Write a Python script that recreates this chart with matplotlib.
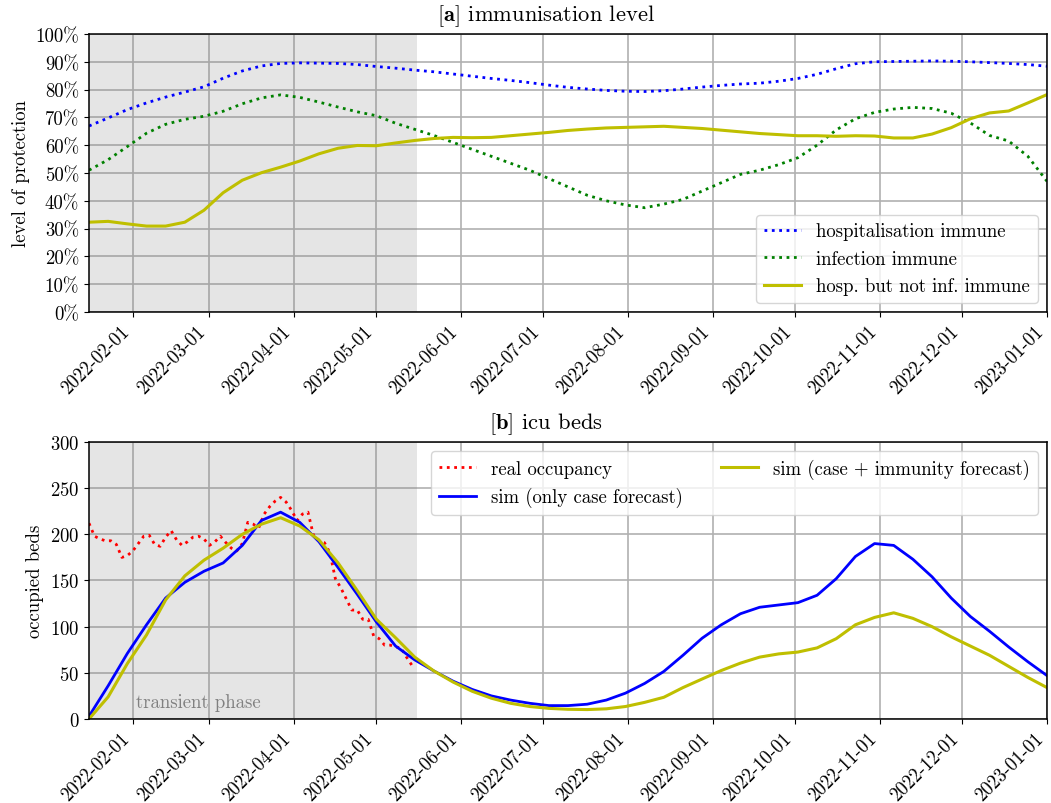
import matplotlib
matplotlib.use("Agg")
from matplotlib import pyplot as plt
from matplotlib.ticker import PercentFormatter, MultipleLocator
import matplotlib.dates as mdates
import pandas as pd

plt.rcParams['font.family'] = 'serif'
plt.rcParams['font.serif'] = ['cmr10']
plt.rcParams['mathtext.fontset'] = 'cm'
plt.rcParams['axes.formatter.use_mathtext'] = True
plt.rcParams['font.size'] = 13.5

# weekly dates, 2022-01-16 .. 2023-01-01
weeks = pd.date_range('2022-01-16', '2023-01-01', freq='7D')

# [a] immunisation level (percent)
hosp_immune = [66.9, 69.8, 72.8, 75.2, 77.3, 79.1, 81.0, 84.1, 86.7, 88.5,
               89.4, 89.6, 89.5, 89.4, 89.0, 88.3, 87.7, 87.0, 86.4, 85.6,
               84.8, 84.0, 83.3, 82.5, 81.6, 80.8, 80.2, 79.7, 79.4, 79.3,
               79.6, 80.2, 80.9, 81.5, 82.0, 82.3, 83.0, 84.0, 85.5, 87.5,
               89.3, 90.0, 90.1, 90.2, 90.3, 90.2, 90.0, 89.7, 89.4, 89.0, 88.4]
inf_immune = [51.0, 54.8, 59.5, 64.3, 67.5, 69.3, 70.4, 72.2, 74.9, 77.0,
              78.1, 77.2, 75.5, 73.7, 72.0, 70.6, 67.9, 65.7, 63.5, 61.0,
              58.5, 56.0, 53.5, 51.0, 48.0, 45.0, 42.0, 40.0, 38.5, 37.5,
              38.8, 40.5, 43.5, 46.5, 49.5, 51.0, 53.0, 55.5, 60.0, 65.5,
              69.5, 71.8, 73.0, 73.6, 73.2, 71.5, 68.0, 63.5, 61.5, 56.0, 47.0]
hosp_not_inf = [32.3, 32.6, 31.7, 30.9, 30.9, 32.3, 36.6, 42.9, 47.4, 50.1,
                52.1, 54.3, 56.9, 58.9, 59.9, 59.8, 60.8, 61.7, 62.4, 62.8,
                62.7, 62.8, 63.4, 64.0, 64.6, 65.3, 65.8, 66.2, 66.4, 66.6,
                66.8, 66.4, 66.0, 65.4, 64.8, 64.2, 63.8, 63.4, 63.4, 63.2,
                63.4, 63.3, 62.6, 62.6, 64.0, 66.3, 69.5, 71.6, 72.3, 75.2, 78.2]

# [b] icu beds
sim_case = [3, 36, 71, 102, 131, 148, 160, 169, 188, 215,
            224, 213, 192, 164, 135, 105, 79, 64, 52, 41,
            32, 25, 20.5, 17, 14.5, 14.5, 16, 20.5, 28, 38.5,
            51.5, 69, 87.5, 102, 114, 121, 123.5, 126, 134, 152,
            176, 190, 188, 173, 154, 131, 111, 95, 78, 62, 47]
sim_case_imm = [0, 24, 60, 91, 129, 155, 172, 185, 200, 211,
                218, 209, 194, 169, 139, 108, 88, 67, 52, 40,
                30, 22.5, 17, 13.5, 11.5, 10.5, 10.2, 11, 13.5, 18,
                23.5, 34, 43.3, 52.5, 60.5, 67, 70.5, 72.5, 77, 87,
                102, 110, 115, 109, 100, 89, 79, 69, 57, 45, 34]

# real occupancy, every second day
real_days = pd.date_range('2022-01-16', periods=60, freq='2D')
real_occ = [212, 198, 195, 193, 193, 189, 175, 177, 182, 190,
            198, 199, 189, 187, 197, 204, 194, 188, 192, 197,
            198, 195, 188, 192, 198, 191, 185, 182, 190, 213,
            211, 207, 222, 230, 236, 240, 235, 226, 215, 222,
            224, 199, 193, 191, 180, 152, 142, 130, 118, 118,
            108, 108, 90, 87, 80, 80, 78, 77, 67, 58]

start = pd.Timestamp('2022-01-16')
end = pd.Timestamp('2023-01-01')
transient_end = pd.Timestamp('2022-05-16')

fig = plt.figure(figsize=(10.51, 8.04), dpi=100)
ax1 = fig.add_axes([0.0847, 0.6107, 0.9115, 0.3458])
ax2 = fig.add_axes([0.0847, 0.1045, 0.9115, 0.3445])

for ax in (ax1, ax2):
    ax.axvspan(start, transient_end, color='gray', alpha=0.2, lw=0)
    ax.grid(True, color='#b0b0b0', linewidth=1.2)
    ax.set_axisbelow(True)
    ax.set_xlim(start, end)
    ax.xaxis.set_major_locator(mdates.MonthLocator(bymonthday=1))
    ax.xaxis.set_major_formatter(mdates.DateFormatter('%Y-%m-%d'))
    plt.setp(ax.get_xticklabels(), rotation=45, ha='right')
    for s in ax.spines.values():
        s.set_linewidth(1.1)

ax1.plot(weeks, hosp_immune, ':', color='b', lw=2, label='hospitalisation immune')
ax1.plot(weeks, inf_immune, ':', color='g', lw=2, label='infection immune')
ax1.plot(weeks, hosp_not_inf, '-', color='y', lw=2.2, label='hosp. but not inf. immune')
ax1.set_ylim(0, 100)
ax1.yaxis.set_major_locator(MultipleLocator(10))
ax1.yaxis.set_major_formatter(PercentFormatter(100, decimals=0))
ax1.set_ylabel('level of protection')
ax1.set_title(r'[$\mathbf{a}$] immunisation level', x=0.477, pad=10)
ax1.legend(loc='lower right')

ax2.plot(real_days, real_occ, ':', color='r', lw=2, label='real occupancy')
ax2.plot(weeks, sim_case, '-', color='b', lw=2, label='sim (only case forecast)')
ax2.plot(weeks, sim_case_imm, '-', color='y', lw=2.2, label='sim (case + immunity forecast)')
ax2.set_ylim(0, 300)
ax2.yaxis.set_major_locator(MultipleLocator(50))
ax2.set_ylabel('occupied beds')
ax2.set_title(r'[$\mathbf{b}$] icu beds', x=0.477, pad=10)
ax2.text(pd.Timestamp('2022-02-02'), 13, 'transient phase', color='gray')
ax2.legend(loc='upper right', ncol=2)

fig.savefig('out.png', dpi=100)
